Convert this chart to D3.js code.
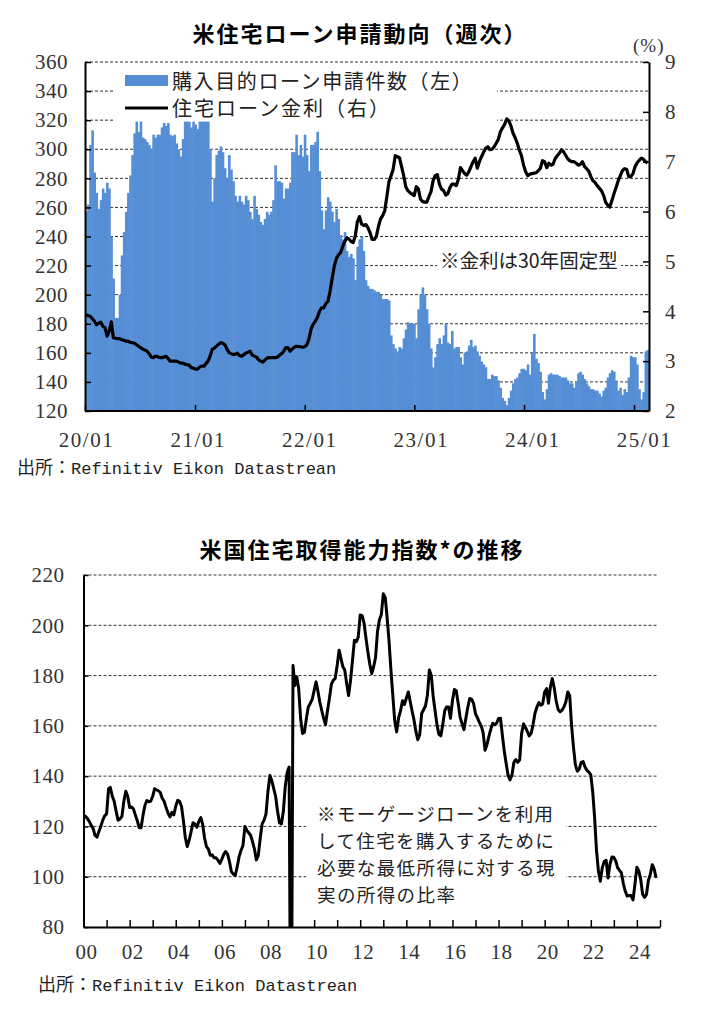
<!DOCTYPE html>
<html>
<head>
<meta charset="utf-8">
<script src="https://cdn.jsdelivr.net/npm/d3@7"></script>
<style>
body { margin: 0; background: #fff; }
</style>
</head>
<body>
<div id="chart"></div>
<script>

// weekly purchase applications index (left axis), from first week of 2020
const purchaseApps = [
    257, 262, 303, 313, 284, 270, 259, 265, 273, 270,
    277, 273, 240, 211, 184, 184, 200, 227, 243, 257,
    270, 282, 296, 311, 319, 312, 319, 308, 307, 305,
    303, 300, 310, 308, 310, 310, 315, 318, 316, 318,
    310, 309, 310, 304, 300, 295, 307, 319, 319, 319,
    315, 319, 317, 314, 319, 319, 319, 319, 319, 300,
    264, 280, 296, 299, 302, 298, 287, 280, 296, 286,
    278, 268, 264, 268, 264, 262, 268, 265, 257, 252,
    268, 259, 255, 250, 248, 252, 257, 255, 257, 265,
    289, 278, 278, 277, 266, 273, 273, 277, 298, 298,
    310, 296, 303, 295, 310, 296, 285, 303, 303, 305,
    312, 285, 258, 245, 258, 267, 264, 257, 250, 259,
    252, 241, 238, 243, 230, 226, 228, 225, 210, 233,
    238, 240, 230, 210, 206, 204, 204, 203, 202, 202,
    200, 197, 197, 197, 196, 172, 166, 163, 161, 164,
    163, 170, 176, 181, 180, 180, 180, 170, 190, 200,
    205, 200, 190, 180, 163, 150, 157, 166, 170, 166,
    172, 180, 167, 166, 175, 163, 164, 164, 157, 152,
    160, 161, 165, 169, 164, 165, 161, 158, 154, 152,
    150, 142, 142, 145, 144, 144, 141, 136, 129, 127,
    124, 129, 134, 139, 142, 143, 146, 149, 149, 148,
    152, 145, 160, 173, 156, 153, 147, 133, 128, 135,
    145, 146, 145, 145, 145, 144, 143, 143, 143, 141,
    139, 139, 136, 140, 146, 147, 145, 142, 139, 137,
    135, 135, 134, 134, 132, 130, 134, 136, 143, 146,
    148, 147, 141, 134, 136, 131, 135, 133, 143, 158,
    157, 157, 152, 135, 128, 133, 161, 162
]

// weekly 30y fixed mortgage rate, % (right axis)
const mortgageRate = [
    3.93, 3.91, 3.90, 3.85, 3.80, 3.73, 3.76, 3.78, 3.70, 3.67,
    3.50, 3.60, 3.79, 3.47, 3.46, 3.45, 3.45, 3.43, 3.42, 3.40,
    3.40, 3.38, 3.37, 3.36, 3.33, 3.30, 3.27, 3.24, 3.22, 3.20,
    3.15, 3.08, 3.07, 3.10, 3.09, 3.07, 3.07, 3.08, 3.10, 3.05,
    3.00, 3.00, 3.00, 3.00, 2.98, 2.96, 2.96, 2.94, 2.93, 2.92,
    2.87, 2.86, 2.84, 2.84, 2.88, 2.90, 2.90, 2.95, 3.00, 3.10,
    3.24, 3.26, 3.30, 3.34, 3.37, 3.36, 3.33, 3.24, 3.17, 3.15,
    3.13, 3.14, 3.16, 3.11, 3.10, 3.13, 3.16, 3.18, 3.20, 3.12,
    3.10, 3.08, 3.03, 3.00, 2.98, 3.02, 3.06, 3.07, 3.07, 3.07,
    3.07, 3.08, 3.12, 3.15, 3.20, 3.27, 3.27, 3.20, 3.24, 3.28,
    3.30, 3.29, 3.29, 3.28, 3.29, 3.33, 3.45, 3.65, 3.74, 3.80,
    3.88, 4.00, 4.07, 4.07, 4.15, 4.20, 4.40, 4.66, 4.90, 5.06,
    5.13, 5.18, 5.30, 5.40, 5.47, 5.45, 5.40, 5.38, 5.51, 5.80,
    5.90, 5.75, 5.72, 5.74, 5.68, 5.58, 5.44, 5.44, 5.50, 5.70,
    5.85, 5.92, 6.02, 6.30, 6.60, 6.72, 6.85, 7.12, 7.10, 7.08,
    6.90, 6.72, 6.50, 6.42, 6.38, 6.35, 6.32, 6.50, 6.45, 6.25,
    6.20, 6.19, 6.19, 6.30, 6.40, 6.62, 6.72, 6.74, 6.55, 6.45,
    6.42, 6.33, 6.36, 6.48, 6.55, 6.55, 6.52, 6.65, 6.88, 6.82,
    6.76, 6.73, 6.80, 6.90, 7.00, 7.07, 6.87, 7.00, 7.10, 7.19,
    7.27, 7.30, 7.24, 7.25, 7.30, 7.37, 7.45, 7.60, 7.68, 7.75,
    7.86, 7.82, 7.72, 7.57, 7.48, 7.37, 7.23, 7.12, 6.93, 6.80,
    6.72, 6.75, 6.76, 6.77, 6.78, 6.82, 6.87, 7.02, 7.00, 6.88,
    6.97, 6.93, 6.95, 7.06, 7.12, 7.17, 7.24, 7.20, 7.13, 7.06,
    7.02, 7.00, 7.00, 6.97, 6.93, 6.95, 7.00, 6.90, 6.86, 6.81,
    6.70, 6.62, 6.58, 6.52, 6.47, 6.42, 6.33, 6.19, 6.13, 6.09,
    6.22, 6.36, 6.49, 6.62, 6.72, 6.82, 6.86, 6.85, 6.70, 6.70,
    6.76, 6.90, 6.98, 7.03, 7.07, 7.05, 7.00, 6.98
]

// monthly housing affordability index, from Jan 2000 (the 0 is the glitch the source shows at end-2008)
const affordability = [
    124.4, 124, 123.2, 122, 120.5, 119.2, 116.4, 115.7, 118, 120,
    122.5, 124.2, 125, 135, 135.5, 132, 130, 126, 122.5, 123,
    124, 130, 134, 132, 127.5, 127.7, 127, 124.6, 122.4, 119.5,
    119.5, 124.5, 128.4, 130.3, 129.8, 130, 132, 135, 134.6, 134.2,
    133.5, 131.2, 130, 127.5, 125.3, 123.8, 125.6, 124.6, 128, 130.4,
    130, 128, 122.4, 115.5, 112, 114.5, 118, 121.5, 121, 119.7,
    122, 123.5, 121, 115.5, 112, 111, 108.5, 108.7, 107.5, 107.5,
    106.5, 105.3, 107, 109, 110, 109, 106, 102, 101.1, 100.5,
    104, 108, 110.5, 112.4, 120, 118.4, 117.5, 116.5, 114, 111,
    106.7, 108.5, 115.5, 121, 122.5, 125, 134, 140.3, 138.3, 135,
    132, 126, 121.5, 121, 126, 136, 141.5, 143.6, 0, 184,
    176, 179.5, 175, 163, 157, 157.5, 163, 167.5, 168.9, 170.5,
    174, 177.5, 174, 169.5, 166.2, 163, 160.5, 166, 171, 176.5,
    178.2, 178.8, 184, 190.1, 187, 183.5, 182.2, 176.8, 172.1, 178,
    186, 194, 193.5, 195.3, 204.1, 203.8, 201, 195, 189.5, 184.5,
    180.8, 183.5, 187.3, 197.5, 202.2, 204.3, 212.5, 211, 203.5, 194,
    182.5, 172, 162, 157.6, 163.3, 166, 170, 168.5, 171, 173.5,
    170, 166, 162.5, 157.8, 154.5, 156.5, 164.9, 166.4, 168, 172.3,
    182.2, 180, 172, 166, 160.5, 156.6, 156, 160.5, 166, 167.5,
    167.5, 163, 170, 174.5, 174, 169, 163.5, 160.9, 158.5, 163,
    167.5, 170.9, 170.5, 168.9, 164.7, 163.2, 161.5, 160, 157.3, 150.3,
    152.5, 155.8, 158.8, 161, 160.5, 161, 162.9, 163, 156.5, 150,
    145, 140.3, 138.5, 140.5, 145.5, 146.6, 145.5, 146.5, 157, 160.8,
    159.5, 157.8, 156, 157, 160.5, 165, 167.5, 169.3, 168.2, 168.8,
    173.5, 174.8, 169, 175.5, 178.8, 175, 170, 166.5, 165.6, 166.2,
    167.5, 169.5, 173.5, 172, 160.5, 151.6, 144.6, 142, 142.8, 145.5,
    145.8, 143.6, 142.3, 141.6, 140.5, 133.5, 124, 110.5, 102.4, 98.2,
    103.5, 106, 106.5, 99.5, 105, 107.8, 107.7, 106.2, 103.6, 102.5,
    101.5, 97.2, 94.2, 92.3, 92.5, 92.5, 90.8, 97, 103.8, 102.2,
    99, 93, 91.8, 93, 98.5, 101, 104.8, 103, 99.5
]

const firstWeek = new Date(2020, 0, 1)
const firstMonth = new Date(2000, 0, 1)

const appsTicks = [120, 140, 160, 180, 200, 220, 240, 260, 280, 300, 320, 340, 360]
const rateTicks = [2, 3, 4, 5, 6, 7, 8, 9]
const weekYearLabels = ["20/01", "21/01", "22/01", "23/01", "24/01", "25/01"]

const affordTicks = [80, 100, 120, 140, 160, 180, 200, 220]
const monthYearLabels = ["00", "02", "04", "06", "08", "10", "12", "14", "16", "18", "20", "22", "24"]

const jp = '"Noto Sans CJK JP", sans-serif'
const num = '"Liberation Serif", serif'
const mono = '"Liberation Mono", monospace'

let svg = d3.select("#chart")
    .append("svg")
    .attr("width", 707)
    .attr("height", 1020)

const styleAxis = (g, size, spacing) => {
    g.attr("font-family", num).attr("font-size", size)
    g.select(".domain").attr("stroke", "#000").attr("stroke-width", 2)
    g.selectAll(".tick line").attr("stroke", "#000").attr("stroke-width", 1.5)
    g.selectAll(".tick text").attr("fill", "#333").attr("letter-spacing", spacing)
}

const sourceNote = (x, y) => {
    let t = svg.append("text").attr("x", x).attr("y", y).attr("fill", "#222")
    t.append("tspan").attr("font-family", jp).attr("font-size", 18).text("出所：")
    t.append("tspan").attr("font-family", mono).attr("font-size", 17).text("Refinitiv Eikon Datastrean")
}


const drawApplications = () => {

    let left = 85, right = 649, top = 62, bottom = 411

    let weeks = purchaseApps.map((d, i) => d3.timeDay.offset(firstWeek, 7 * i))
    let x = d3.scaleTime().domain([new Date(2020, 0, 1), new Date(2025, 0, 1)]).range([left, 634])
    let yL = d3.scaleLinear().domain([120, 360]).range([bottom, top])
    let yR = d3.scaleLinear().domain([2, 9]).range([bottom, top])
    let step = x(weeks[1]) - x(weeks[0])

    svg.append("text")
        .attr("x", 360).attr("y", 42)
        .attr("text-anchor", "middle")
        .attr("font-family", jp).attr("font-size", 22).attr("font-weight", "bold")
        .attr("letter-spacing", 2)
        .text("米住宅ローン申請動向（週次）")

    svg.append("g").selectAll("line")
        .data(appsTicks.slice(1))
        .enter().append("line")
        .attr("x1", left).attr("x2", right)
        .attr("y1", d => yL(d)).attr("y2", d => yL(d))
        .attr("stroke", "#333").attr("stroke-dasharray", "3,2")

    // legend background hides the gridlines under it
    svg.append("rect")
        .attr("x", 113).attr("y", 64).attr("width", 384).attr("height", 57.3)
        .attr("fill", "#fff")

    svg.append("g").selectAll("rect")
        .data(purchaseApps)
        .enter().append("rect")
        .attr("x", (d, i) => x(weeks[i]))
        .attr("y", d => yL(d))
        .attr("width", step + 0.5)
        .attr("height", d => bottom - yL(d))
        .attr("fill", "#558ed5")

    let axL = svg.append("g").attr("transform", "translate(" + left + ",0)")
        .call(d3.axisLeft(yL).tickValues(appsTicks).tickSize(-6).tickSizeOuter(0).tickPadding(17))
    styleAxis(axL, 21, 0.5)

    let axR = svg.append("g").attr("transform", "translate(" + right + ",0)")
        .call(d3.axisRight(yR).tickValues(rateTicks).tickSize(-6).tickSizeOuter(0).tickPadding(16)
            .tickFormat(d3.format("d")))
    styleAxis(axR, 21, 0.5)

    let years = d3.range(2020, 2026).map(y => new Date(y, 0, 1))
    let axB = svg.append("g").attr("transform", "translate(0," + bottom + ")")
        .call(d3.axisBottom(x).tickValues(years).tickSize(-6).tickSizeOuter(0).tickPadding(21)
            .tickFormat((d, i) => weekYearLabels[i]))
    axB.select(".domain").attr("d", "M" + left + ",0H" + right)
    styleAxis(axB, 21, 1.5)
    axB.selectAll(".tick text").attr("dx", (d, i) => 1 + i * 1.8)

    svg.append("text")
        .attr("x", 633).attr("y", 52)
        .attr("font-family", num).attr("font-size", 19).attr("fill", "#333")
        .attr("letter-spacing", 1)
        .text("(%)")

    let rateLine = d3.line()
        .x((d, i) => x(weeks[i]) + step / 2)
        .y(d => yR(d))

    svg.append("path")
        .datum(mortgageRate)
        .attr("d", rateLine)
        .attr("fill", "none")
        .attr("stroke", "#000")
        .attr("stroke-width", 3.2)
        .attr("stroke-linejoin", "round")

    // legend
    svg.append("rect").attr("x", 125).attr("y", 75).attr("width", 43).attr("height", 11).attr("fill", "#558ed5")
    svg.append("line").attr("x1", 125).attr("x2", 168).attr("y1", 108).attr("y2", 108)
        .attr("stroke", "#000").attr("stroke-width", 3.2)
    svg.append("text").attr("x", 172).attr("y", 89)
        .attr("font-family", jp).attr("font-size", 20).attr("letter-spacing", 1.6).attr("fill", "#222")
        .text("購入目的ローン申請件数（左）")
    svg.append("text").attr("x", 172).attr("y", 116)
        .attr("font-family", jp).attr("font-size", 20).attr("letter-spacing", 2).attr("fill", "#222")
        .text("住宅ローン金利（右）")

    svg.append("rect").attr("x", 437).attr("y", 249).attr("width", 184).attr("height", 24).attr("fill", "#fff")
    svg.append("text").attr("x", 440).attr("y", 268)
        .attr("font-family", jp).attr("font-size", 19.5).attr("fill", "#222")
        .text("※金利は30年固定型")

    sourceNote(17, 474)
}


const drawAffordability = () => {

    let left = 83.5, right = 660, top = 575, bottom = 927

    let months = affordability.map((d, i) => d3.timeMonth.offset(firstMonth, i))
    let x = d3.scaleTime().domain([new Date(2000, 0, 1), new Date(2025, 0, 1)]).range([left, right])
    let y = d3.scaleLinear().domain([80, 220]).range([bottom, top])

    svg.append("text")
        .attr("x", 362).attr("y", 558)
        .attr("text-anchor", "middle")
        .attr("font-family", jp).attr("font-size", 22).attr("font-weight", "bold")
        .attr("letter-spacing", 2)
        .text("米国住宅取得能力指数*の推移")

    svg.append("g").selectAll("line")
        .data(affordTicks.slice(1))
        .enter().append("line")
        .attr("x1", left).attr("x2", 658)
        .attr("y1", d => y(d)).attr("y2", d => y(d))
        .attr("stroke", "#333").attr("stroke-dasharray", "3,2")

    svg.append("rect").attr("x", 306).attr("y", 799).attr("width", 260).attr("height", 109).attr("fill", "#fff")

    svg.append("clipPath").attr("id", "afford-clip")
        .append("rect").attr("x", left).attr("y", top - 5).attr("width", right - left).attr("height", bottom - top + 5)

    let line = d3.line()
        .x((d, i) => x(months[i]))
        .y(d => y(d))

    svg.append("path")
        .datum(affordability)
        .attr("clip-path", "url(#afford-clip)")
        .attr("d", line)
        .attr("fill", "none")
        .attr("stroke", "#000")
        .attr("stroke-width", 3)
        .attr("stroke-linejoin", "round")

    let axL = svg.append("g").attr("transform", "translate(" + left + ",0)")
        .call(d3.axisLeft(y).tickValues(affordTicks).tickSize(-5).tickSizeOuter(0).tickPadding(19))
    styleAxis(axL, 21, 0.5)

    let years = d3.range(2000, 2026).map(yr => new Date(yr, 0, 1))
    let axB = svg.append("g").attr("transform", "translate(0," + bottom + ")")
        .call(d3.axisBottom(x).tickValues(years).tickSize(-7).tickSizeOuter(0).tickPadding(17)
            .tickFormat((d, i) => i % 2 === 0 && i / 2 < monthYearLabels.length ? monthYearLabels[i / 2] : ""))
    styleAxis(axB, 21, 0.5)
    axB.selectAll(".tick text").attr("dx", 2.5)

    // the note is one text block, one tspan per line
    let note = ["※モーゲージローンを利用", "して住宅を購入するために", "必要な最低所得に対する現", "実の所得の比率"]
    svg.append("text")
        .attr("font-family", jp).attr("font-size", 18.5).attr("letter-spacing", 1.4).attr("fill", "#222")
        .selectAll("tspan")
        .data(note)
        .enter().append("tspan")
        .attr("x", 317)
        .attr("y", (d, i) => 821 + i * 27)
        .text(d => d)

    sourceNote(38, 991)
}


drawApplications()
drawAffordability()

</script>
</body>
</html>
